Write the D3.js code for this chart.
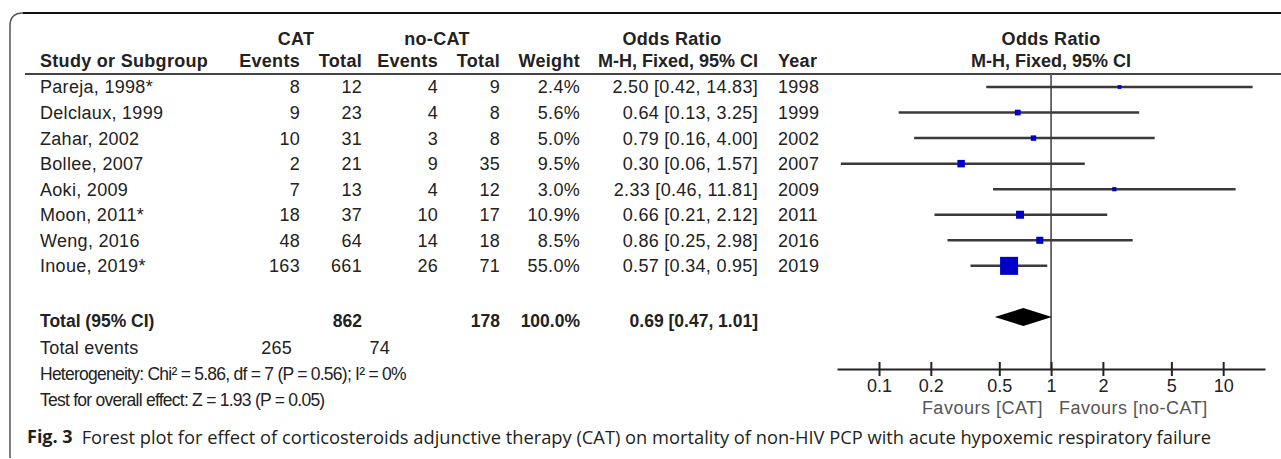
<!DOCTYPE html>
<html><head><meta charset="utf-8">
<script src="https://cdn.jsdelivr.net/npm/d3@7"></script>
<style>html,body{margin:0;padding:0;background:#fff}svg{display:block}</style>
</head><body>
<svg id="chart" width="1281" height="459"></svg>
<script>
// ---------- data ----------
const studies      = ["Pareja, 1998*", "Delclaux, 1999", "Zahar, 2002", "Bollee, 2007", "Aoki, 2009", "Moon, 2011*", "Weng, 2016", "Inoue, 2019*"];
const catEvents    = [8, 9, 10, 2, 7, 18, 48, 163];
const catTotal     = [12, 23, 31, 21, 13, 37, 64, 661];
const noCatEvents  = [4, 4, 3, 9, 4, 10, 14, 26];
const noCatTotal   = [9, 8, 8, 35, 12, 17, 18, 71];
const weights      = [2.4, 5.6, 5.0, 9.5, 3.0, 10.9, 8.5, 55.0];
const oddsRatios   = [2.50, 0.64, 0.79, 0.30, 2.33, 0.66, 0.86, 0.57];
const ciLower      = [0.42, 0.13, 0.16, 0.06, 0.46, 0.21, 0.25, 0.34];
const ciUpper      = [14.83, 3.25, 4.00, 1.57, 11.81, 2.12, 2.98, 0.95];
const years        = [1998, 1999, 2002, 2007, 2009, 2011, 2016, 2019];
const pooled       = [0.69, 0.47, 1.01];   // OR, lower, upper
const totalN       = [862, 178];           // CAT, no-CAT
const totalEvents  = [265, 74];            // CAT, no-CAT
const totalWeight  = "100.0%";
const axisTicks    = [0.1, 0.2, 0.5, 1, 2, 5, 10];
const axisExtent   = [0.057, 17.5];
const heterogeneity = "Heterogeneity: Chi² = 5.86, df = 7 (P = 0.56); I² = 0%";
const overallTest   = "Test for overall effect: Z = 1.93 (P = 0.05)";
const favours       = ["Favours [CAT]", "Favours [no-CAT]"];
const captionLabel  = "Fig. 3";
const captionText   = "Forest plot for effect of corticosteroids adjunctive therapy (CAT) on mortality of non-HIV PCP with acute hypoxemic respiratory failure";

// ---------- layout ----------
const svg = d3.select("#chart");
const FONT = "'Liberation Sans', Arial, sans-serif";
const FS = 18;
const TXT = "#222";

const x = d3.scaleLog().domain(axisExtent).range([837, 1265]);
const rowY = d3.scaleLinear().domain([0, 1]).range([87, 87 + 25.55]);
const size = d3.scaleSqrt().domain([0, 55]).range([0, 18]);

const col = { name: 40, catE: 300, catT: 362, ncE: 438, ncT: 500, w: 580, or: 758, year: 778 };

// frame
svg.append("path")
  .attr("d", `M10,458 L10,26 Q10,13 23,13`)
  .attr("fill", "none").attr("stroke", "#555").attr("stroke-width", 1.5);
svg.append("line").attr("x1", 23).attr("x2", 1281).attr("y1", 13).attr("y2", 13)
  .attr("stroke", "#111").attr("stroke-width", 2);

function txt(xp, yp, s, anchor, opts = {}) {
  return svg.append("text")
    .attr("x", xp).attr("y", yp)
    .attr("dy", "0.36em")
    .attr("text-anchor", anchor || "start")
    .attr("font-family", opts.family || FONT)
    .attr("font-size", opts.size || FS)
    .attr("font-weight", opts.bold ? 700 : 400)
    .attr("letter-spacing", opts.ls != null ? opts.ls : 0.3)
    .attr("fill", opts.fill || TXT)
    .text(s);
}

// headers
const h1 = 39, h2 = 61;
txt(296, h1, "CAT", "middle", {bold: true});
txt(437, h1, "no-CAT", "middle", {bold: true});
txt(672, h1, "Odds Ratio", "middle", {bold: true});
txt(x(1), h1, "Odds Ratio", "middle", {bold: true});
txt(col.name, h2, "Study or Subgroup", "start", {bold: true});
txt(col.catE, h2, "Events", "end", {bold: true});
txt(col.catT, h2, "Total", "end", {bold: true});
txt(col.ncE, h2, "Events", "end", {bold: true});
txt(col.ncT, h2, "Total", "end", {bold: true});
txt(col.w, h2, "Weight", "end", {bold: true});
txt(col.or, h2, "M-H, Fixed, 95% CI", "end", {bold: true, ls: 0});
txt(col.year, h2, "Year", "start", {bold: true});
txt(x(1), h2, "M-H, Fixed, 95% CI", "middle", {bold: true, ls: 0});

svg.append("line").attr("x1", 25).attr("x2", 1281).attr("y1", 74).attr("y2", 74)
  .attr("stroke", "#444").attr("stroke-width", 2);

// study rows
studies.forEach((s, i) => {
  const y = rowY(i);
  txt(col.name, y, s, "start");
  txt(col.catE, y, catEvents[i], "end");
  txt(col.catT, y, catTotal[i], "end");
  txt(col.ncE, y, noCatEvents[i], "end");
  txt(col.ncT, y, noCatTotal[i], "end");
  txt(col.w, y, weights[i].toFixed(1) + "%", "end");
  txt(col.or, y, `${oddsRatios[i].toFixed(2)} [${ciLower[i].toFixed(2)}, ${ciUpper[i].toFixed(2)}]`, "end");
  txt(col.year, y, years[i], "start");
});

// summary rows
const yTot = rowY(9) + 4, yEv = rowY(10) + 5, yHet = rowY(11) + 6, yTest = rowY(12) + 6;
const S = {size: 17.5, ls: 0};
txt(col.name, yTot, "Total (95% CI)", "start", {...S, bold: true});
txt(col.catT, yTot, totalN[0], "end", {...S, bold: true});
txt(col.ncT, yTot, totalN[1], "end", {...S, bold: true});
txt(col.w, yTot, totalWeight, "end", {...S, bold: true});
txt(col.or, yTot, `${pooled[0].toFixed(2)} [${pooled[1].toFixed(2)}, ${pooled[2].toFixed(2)}]`, "end", {...S, bold: true});
txt(col.name, yEv, "Total events", "start", {size: 18, ls: 0.2});
txt(292, yEv, totalEvents[0], "end", {size: 18, ls: 0.2});
txt(390, yEv, totalEvents[1], "end", {size: 18, ls: 0.2});
txt(col.name, yHet, heterogeneity, "start", {size: 17.5, ls: -0.75});
txt(col.name, yTest, overallTest, "start", {size: 17.5, ls: -0.75});

// forest plot
const axisY = 369;
svg.append("line").attr("x1", x(1)).attr("x2", x(1)).attr("y1", 74).attr("y2", axisY)
  .attr("stroke", "#555").attr("stroke-width", 1.7);

const g = svg.append("g");
g.selectAll("line.ci").data(studies).join("line")
  .attr("class", "ci")
  .attr("x1", (d, i) => x(ciLower[i])).attr("x2", (d, i) => x(ciUpper[i]))
  .attr("y1", (d, i) => rowY(i)).attr("y2", (d, i) => rowY(i))
  .attr("stroke", "#3a3a3a").attr("stroke-width", 2.5);
g.selectAll("rect.sq").data(studies).join("rect")
  .attr("class", "sq")
  .attr("x", (d, i) => x(oddsRatios[i]) - Math.max(3, size(weights[i])) / 2)
  .attr("y", (d, i) => rowY(i) - Math.max(3, size(weights[i])) / 2)
  .attr("width", (d, i) => Math.max(3, size(weights[i])))
  .attr("height", (d, i) => Math.max(3, size(weights[i])))
  .attr("fill", "#0000c8");

const dY = rowY(9), dH = 9;
svg.append("path")
  .attr("d", `M${x(pooled[1])},${dY} L${x(pooled[0])},${dY - dH} L${x(pooled[2])},${dY} L${x(pooled[0])},${dY + dH} Z`)
  .attr("fill", "#000");

// axis
const axis = d3.axisBottom(x).tickValues(axisTicks).tickFormat(d3.format("~g")).tickSize(0).tickPadding(0);
const ag = svg.append("g").attr("transform", `translate(0,${axisY})`).call(axis);
ag.select(".domain").attr("stroke", "#222").attr("stroke-width", 2);
ag.selectAll(".tick line").attr("y1", -7).attr("y2", 7).attr("stroke", "#222").attr("stroke-width", 2);
ag.selectAll(".tick text").attr("y", 17).attr("dy", "0.36em")
  .attr("font-family", FONT).attr("font-size", 18).attr("fill", TXT);

txt(x(1) - 8, 408, favours[0], "end", {fill: "#555", size: 18, ls: 0.5});
txt(x(1) + 8, 408, favours[1], "start", {fill: "#555", size: 18, ls: 0.5});

// caption
const CF = "'Open Sans', 'Noto Sans', sans-serif";
const capY = 437;
const lab = txt(27, capY, captionLabel, "start", {family: CF, size: 18, bold: true, fill: "#231f20", ls: 0});
const labW = lab.node().getComputedTextLength();
const cap = txt(27 + labW + 9, capY, captionText, "start", {family: CF, size: 18, fill: "#231f20", ls: 0});
const cw = cap.node().getComputedTextLength();
const target = 1212 - (27 + labW + 9);
cap.attr("font-size", 18 * target / cw);
</script>
</body></html>
